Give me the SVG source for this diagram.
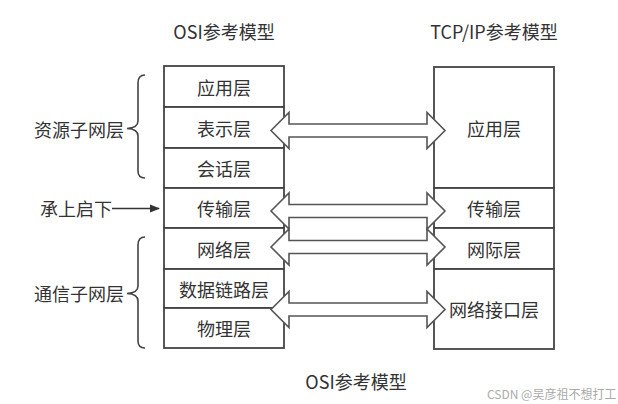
<svg xmlns="http://www.w3.org/2000/svg" xmlns:xlink="http://www.w3.org/1999/xlink" width="618" height="404" viewBox="0 0 618 404">
<style>
text{font-family:"Noto Sans CJK SC","Noto Sans",sans-serif;font-size:18px;fill:#333;text-anchor:middle;dominant-baseline:central}
.box{fill:#fff;stroke:#444;stroke-width:1.8}
.arr{fill:#fff;stroke:#555;stroke-width:1.6;stroke-linejoin:miter}
.brace{fill:none;stroke:#444;stroke-width:1.6}
.wm{font-size:12px;fill:#aaa;text-anchor:start}
</style>
<defs>
<path id="dbl" d="M271,0 L289,-18 L289,-6.5 L427,-6.5 L427,-18 L445,0 L427,18 L427,6.5 L289,6.5 L289,18 Z"/>
<marker id="ah" markerWidth="10" markerHeight="10" refX="9" refY="5" orient="auto" markerUnits="userSpaceOnUse">
<path d="M0,1 L10,5 L0,9 Z" fill="#333"/>
</marker>
</defs>
<rect width="618" height="404" fill="#fff"/>
<text x="224" y="31">OSI参考模型</text>
<text x="494" y="31">TCP/IP参考模型</text>

<g id="osi">
<g id="osi-app"><rect class="box" x="164" y="66" width="120" height="41"/><text x="224" y="86.5">应用层</text></g>
<g id="osi-pres"><rect class="box" x="164" y="107" width="120" height="41"/><text x="224" y="128">表示层</text></g>
<g id="osi-sess"><rect class="box" x="164" y="148" width="120" height="40"/><text x="224" y="168">会话层</text></g>
<g id="osi-trans"><rect class="box" x="164" y="188" width="120" height="40"/><text x="224" y="208">传输层</text></g>
<g id="osi-net"><rect class="box" x="164" y="228" width="120" height="41"/><text x="224" y="248.5">网络层</text></g>
<g id="osi-dl"><rect class="box" x="164" y="269" width="120" height="39"/><text x="224" y="288.5">数据链路层</text></g>
<g id="osi-phy"><rect class="box" x="164" y="308" width="120" height="40"/><text x="224" y="328">物理层</text></g>
</g>

<g id="tcp">
<g id="tcp-app"><rect class="box" x="434" y="67" width="120" height="121"/><text x="494" y="128">应用层</text></g>
<g id="tcp-trans"><rect class="box" x="434" y="188" width="120" height="40"/><text x="494" y="208">传输层</text></g>
<g id="tcp-inet"><rect class="box" x="434" y="228" width="120" height="41"/><text x="494" y="248.5">网际层</text></g>
<g id="tcp-link"><rect class="box" x="434" y="269" width="120" height="80"/><text x="494" y="309">网络接口层</text></g>
</g>

<g id="labels">
<g id="res"><text x="79" y="129">资源子网层</text><path class="brace" d="M145,75 Q138,75 138,83 L138,121 Q138,128 127,128.5 Q138,129 138,136 L138,171 Q138,178 145,178"/></g>
<g id="mid"><text x="76" y="208">承上启下</text></g>
<g id="comm"><text x="79" y="293">通信子网层</text><path class="brace" d="M145,237 Q138,237 138,245 L138,286 Q138,293 127,293.5 Q138,294 138,301 L138,341 Q138,348 145,348"/></g>
</g>

<g id="connectors">
<line x1="112" y1="208.5" x2="159" y2="208.5" stroke="#333" stroke-width="1.6" marker-end="url(#ah)"/>
<use href="#dbl" xlink:href="#dbl" class="arr" transform="translate(0,130.5)"/>
<use href="#dbl" xlink:href="#dbl" class="arr" transform="translate(0,211)"/>
<use href="#dbl" xlink:href="#dbl" class="arr" transform="translate(0,247)"/>
<use href="#dbl" xlink:href="#dbl" class="arr" transform="translate(0,309.5)"/>
</g>

<text x="356" y="381">OSI参考模型</text>
<text class="wm" x="487" y="393">CSDN @吴彦祖不想打工</text>
</svg>
